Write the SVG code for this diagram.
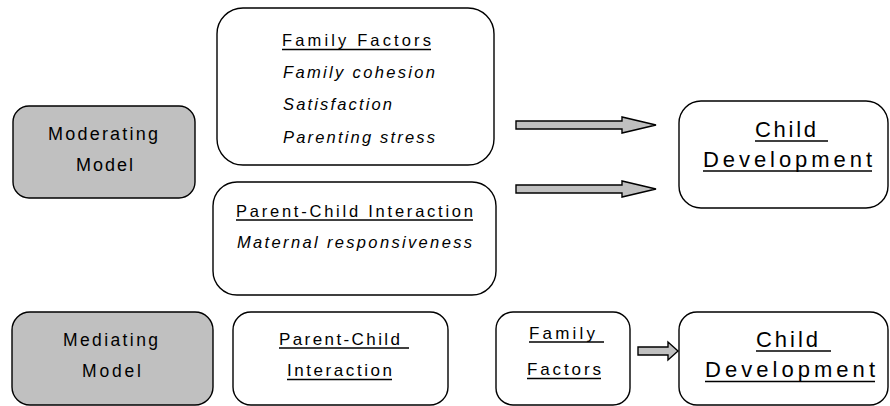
<svg xmlns="http://www.w3.org/2000/svg" width="890" height="406" viewBox="0 0 890 406">
<style>
.box{fill:#fff;stroke:#000;stroke-width:1.4}
.gray{fill:#c0c0c0;stroke:#000;stroke-width:1.4}
.arrow{fill:#c0c0c0;stroke:#000;stroke-width:1.4;stroke-linejoin:miter}
text{font-family:"Liberation Sans",Arial,sans-serif;fill:#000}
.t15{font-size:16.5px}
.tb{font-size:17px}
.t16{font-size:17.5px}
.t17{font-size:18px}
.t20{font-size:22px}
.it{font-style:italic}
.ul{stroke:#000;stroke-width:1.6}
</style>
<rect width="890" height="406" fill="#fff"/>
<g id="moderating-model">
<rect class="gray" x="13" y="106" width="182" height="92" rx="16"/>
<text class="t17" x="48" y="140" textLength="110" lengthAdjust="spacing">Moderating</text>
<text class="t17" x="76" y="171" textLength="57" lengthAdjust="spacing">Model</text>
</g>
<g id="family-factors">
<rect class="box" x="217" y="8" width="277" height="157" rx="26"/>
<text class="t15" x="282" y="46" textLength="149" lengthAdjust="spacing">Family Factors</text>
<line class="ul" x1="282" y1="49.5" x2="431" y2="49.5"/>
<text class="t15 it" x="283" y="78" textLength="152" lengthAdjust="spacing">Family cohesion</text>
<text class="t15 it" x="283" y="110" textLength="109" lengthAdjust="spacing">Satisfaction</text>
<text class="t15 it" x="283" y="143" textLength="152" lengthAdjust="spacing">Parenting stress</text>
</g>
<g id="parent-child-interaction">
<rect class="box" x="213" y="182" width="283" height="113" rx="24"/>
<text class="t15" x="236" y="217" textLength="237" lengthAdjust="spacing">Parent-Child Interaction</text>
<line class="ul" x1="236" y1="220" x2="473" y2="220"/>
<text class="t15 it" x="237" y="248" textLength="235" lengthAdjust="spacing">Maternal responsiveness</text>
</g>
<g id="child-development-top">
<rect class="box" x="679" y="101" width="209" height="107" rx="22"/>
<text class="t20" x="755" y="137" textLength="61" lengthAdjust="spacing">Child</text>
<line class="ul" x1="755" y1="141" x2="828" y2="141"/>
<text class="t20" x="703" y="167" textLength="169" lengthAdjust="spacing">Development</text>
<line class="ul" x1="703" y1="171" x2="872" y2="171"/>
</g>
<g id="mediating-model">
<rect class="gray" x="12" y="312" width="201" height="93" rx="18"/>
<text class="t16" x="63" y="346" textLength="95" lengthAdjust="spacing">Mediating</text>
<text class="t16" x="82" y="377" textLength="59" lengthAdjust="spacing">Model</text>
</g>
<g id="parent-child-bottom">
<rect class="box" x="233" y="312" width="215" height="93" rx="18"/>
<text class="tb" x="279" y="345" textLength="121" lengthAdjust="spacing">Parent-Child</text>
<line class="ul" x1="279" y1="348" x2="409" y2="348"/>
<text class="tb" x="287" y="376" textLength="105" lengthAdjust="spacing">Interaction</text>
<line class="ul" x1="287" y1="379.5" x2="392" y2="379.5"/>
</g>
<g id="family-factors-bottom">
<rect class="box" x="496" y="312" width="134" height="93" rx="17"/>
<text class="tb" x="529" y="339" textLength="66" lengthAdjust="spacing">Family</text>
<line class="ul" x1="529" y1="342" x2="604" y2="342"/>
<text class="tb" x="527" y="375" textLength="74" lengthAdjust="spacing">Factors</text>
<line class="ul" x1="527" y1="378.5" x2="601" y2="378.5"/>
</g>
<g id="child-development-bottom">
<rect class="box" x="679" y="312" width="209" height="93" rx="18"/>
<text class="t20" x="756" y="347" textLength="62" lengthAdjust="spacing">Child</text>
<line class="ul" x1="756" y1="351" x2="831" y2="351"/>
<text class="t20" x="705" y="377" textLength="170" lengthAdjust="spacing">Development</text>
<line class="ul" x1="705" y1="381.5" x2="875" y2="381.5"/>
</g>
<g id="connectors">
<polygon class="arrow" points="516,121 622,121 622,117 656,125 622,133 622,129 516,129"/>
<polygon class="arrow" points="516,185 622,185 622,181 656,189 622,197 622,193 516,193"/>
<polygon class="arrow" points="638,347 668,347 668,342 678,351 668,360 668,355 638,355"/>
</g>
</svg>
